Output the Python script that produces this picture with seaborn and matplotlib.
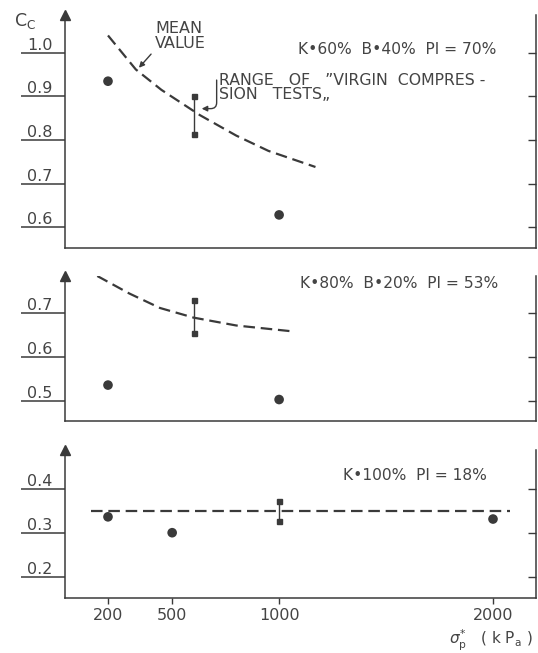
import numpy as np
import pandas as pd
import matplotlib
matplotlib.use("Agg")
import matplotlib.pyplot as plt
import seaborn as sns

# ---------------- data ----------------
x_ticks = [200, 500, 1000, 2000]
x_tick_labels = ["200", "500", "1000", "2000"]

# panel 1 : K 60 %  B 40 %  PI 70 %
p1_dot_x = [200, 1000]
p1_dot_y = [0.935, 0.628]
p1_range_x = [600, 600]
p1_range_y = [0.814, 0.900]
p1_mean_x = [200, 330, 450, 630, 800, 950, 1170]
p1_mean_y = [1.040, 0.962, 0.915, 0.857, 0.810, 0.775, 0.738]
p1_yticks = [0.6, 0.7, 0.8, 0.9, 1.0]
p1_ylabels = ["0.6", "0.7", "0.8", "0.9", "1.0"]

# panel 2 : K 80 %  B 20 %  PI 53 %
p2_dot_x = [200, 1000]
p2_dot_y = [0.536, 0.503]
p2_range_x = [600, 600]
p2_range_y = [0.656, 0.730]
p2_mean_x = [150, 300, 443, 600, 800, 1055]
p2_mean_y = [0.785, 0.745, 0.712, 0.690, 0.672, 0.659]
p2_yticks = [0.5, 0.6, 0.7]
p2_ylabels = ["0.5", "0.6", "0.7"]

# panel 3 : K 100 %  PI 18 %
p3_dot_x = [200, 500, 2000]
p3_dot_y = [0.336, 0.300, 0.331]
p3_range_x = [1000, 1000]
p3_range_y = [0.327, 0.371]
p3_mean_x = [120, 2080]
p3_mean_y = [0.349, 0.349]
p3_yticks = [0.2, 0.3, 0.4]
p3_ylabels = ["0.2", "0.3", "0.4"]

titles = ["K\u202260%  B\u202240%  PI = 70%",
          "K\u202280%  B\u202220%  PI = 53%",
          "K\u2022100%  PI = 18%"]

# ---------------- style ----------------
sns.set_style("white")
plt.rcParams["font.family"] = ["DejaVu Sans"]
plt.rcParams["mathtext.fontset"] = "dejavusans"
INK = "#3a3a3a"
TXT = "#444444"

W, H = 538, 653
fig = plt.figure(figsize=(W / 100, H / 100), dpi=100)

left, right = 65 / W, 536 / W
boxes = [(15, 248), (276, 421), (450, 598)]     # top, bottom in pixels
ylims = [(0.552, 1.087), (0.454, 0.785), (0.152, 0.4875)]
xlim = (-1, 2201)

panels = [
    (p1_dot_x, p1_dot_y, p1_range_x, p1_range_y, p1_mean_x, p1_mean_y, p1_yticks, p1_ylabels),
    (p2_dot_x, p2_dot_y, p2_range_x, p2_range_y, p2_mean_x, p2_mean_y, p2_yticks, p2_ylabels),
    (p3_dot_x, p3_dot_y, p3_range_x, p3_range_y, p3_mean_x, p3_mean_y, p3_yticks, p3_ylabels),
]
title_pos = [(298, 1.008), (300, 0.767), (343, 0.430)]

axes = []
for i, (dx, dy, rx, ry, mx, my, yt, yl) in enumerate(panels):
    top, bot = boxes[i]
    ax = fig.add_axes([left, 1 - bot / H, right - left, (bot - top) / H])
    axes.append(ax)
    ax.set_xlim(*xlim)
    ax.set_ylim(*ylims[i])

    mean_df = pd.DataFrame({"x": mx, "y": my})
    sns.lineplot(data=mean_df, x="x", y="y", ax=ax, color=INK, lw=1.6,
                 dashes=False, sort=True, estimator=None)
    ax.lines[-1].set_dashes((5.2, 2.6))

    dot_df = pd.DataFrame({"x": dx, "y": dy})
    sns.scatterplot(data=dot_df, x="x", y="y", ax=ax, color=INK, s=48,
                    edgecolor="none", zorder=5)

    ax.plot(rx, ry, color=INK, lw=1.0, marker="s", ms=3.6, zorder=4)

    # spines
    for s in ["left", "right", "bottom"]:
        ax.spines[s].set_visible(True)
        ax.spines[s].set_color(INK)
        ax.spines[s].set_linewidth(1.1)
    ax.spines["top"].set_visible(False)

    # arrow at top of the value axis
    ax.plot([0], [1], marker="^", ms=7, color=INK, transform=ax.transAxes,
            clip_on=False)

    # left ticks: long underline with label sitting on it
    ax.set_yticks(yt, labels=yl)
    ax.tick_params(axis="y", which="major", left=True, direction="out",
                   length=32, width=1.1, color=INK, pad=-5,
                   labelsize=11.5, labelcolor=TXT)
    plt.setp(ax.get_yticklabels(), ha="left", va="bottom")

    # right inward ticks
    tw = ax.twinx()
    tw.set_ylim(*ylims[i])
    tw.set_yticks(yt)
    tw.tick_params(axis="y", right=True, direction="in", length=6, width=1.0,
                   color=INK, labelright=False)
    for s in tw.spines.values():
        s.set_visible(False)

    ax.set_xlabel("")
    ax.set_ylabel("")
    if i < 2:
        ax.tick_params(axis="x", bottom=False, labelbottom=False)
    else:
        ax.set_xticks(x_ticks, labels=x_tick_labels)
        ax.tick_params(axis="x", bottom=True, direction="out", length=4,
                       width=1.0, color=INK, pad=3, labelsize=11.5,
                       labelcolor=TXT)

    tx, ty = title_pos[i]
    ax.text(200 + (tx - 108) / 0.2139, ty, titles[i], fontsize=11.2,
            color=TXT, ha="left", va="center")

# annotations, panel 1
ax1 = axes[0]
ax1.text(420, 1.073, "MEAN\nVALUE", fontsize=11.5, color=TXT, ha="left",
         va="top", linespacing=1.0)
ax1.annotate("", xy=(336, 0.961), xytext=(410, 1.002),
             arrowprops=dict(arrowstyle="-|>", color=INK, lw=1.0,
                             mutation_scale=8))
ax1.text(720, 0.921,
         "RANGE   OF   \u201dVIRGIN  COMPRES -\nSION   TESTS\u201e",
         fontsize=11.3, color=TXT, ha="left", va="center", linespacing=0.9)
ax1.annotate("", xy=(625, 0.872), xytext=(708, 0.944),
             arrowprops=dict(arrowstyle="-|>", color=INK, lw=1.0,
                             mutation_scale=8,
                             connectionstyle="angle,angleA=90,angleB=0,rad=6"))

fig.text(14 / W, 1 - 21 / H, r"C$_\mathrm{C}$", fontsize=12.5, color=TXT,
         ha="left", va="center")
fig.text(533 / W, 1 - 640 / H,
         r"$\sigma^{*}_{\mathrm{p}}$   ( k P$_\mathrm{a}$ )",
         fontsize=11, color=TXT, ha="right", va="center")

fig.savefig("out.png", dpi=100, facecolor="white")
